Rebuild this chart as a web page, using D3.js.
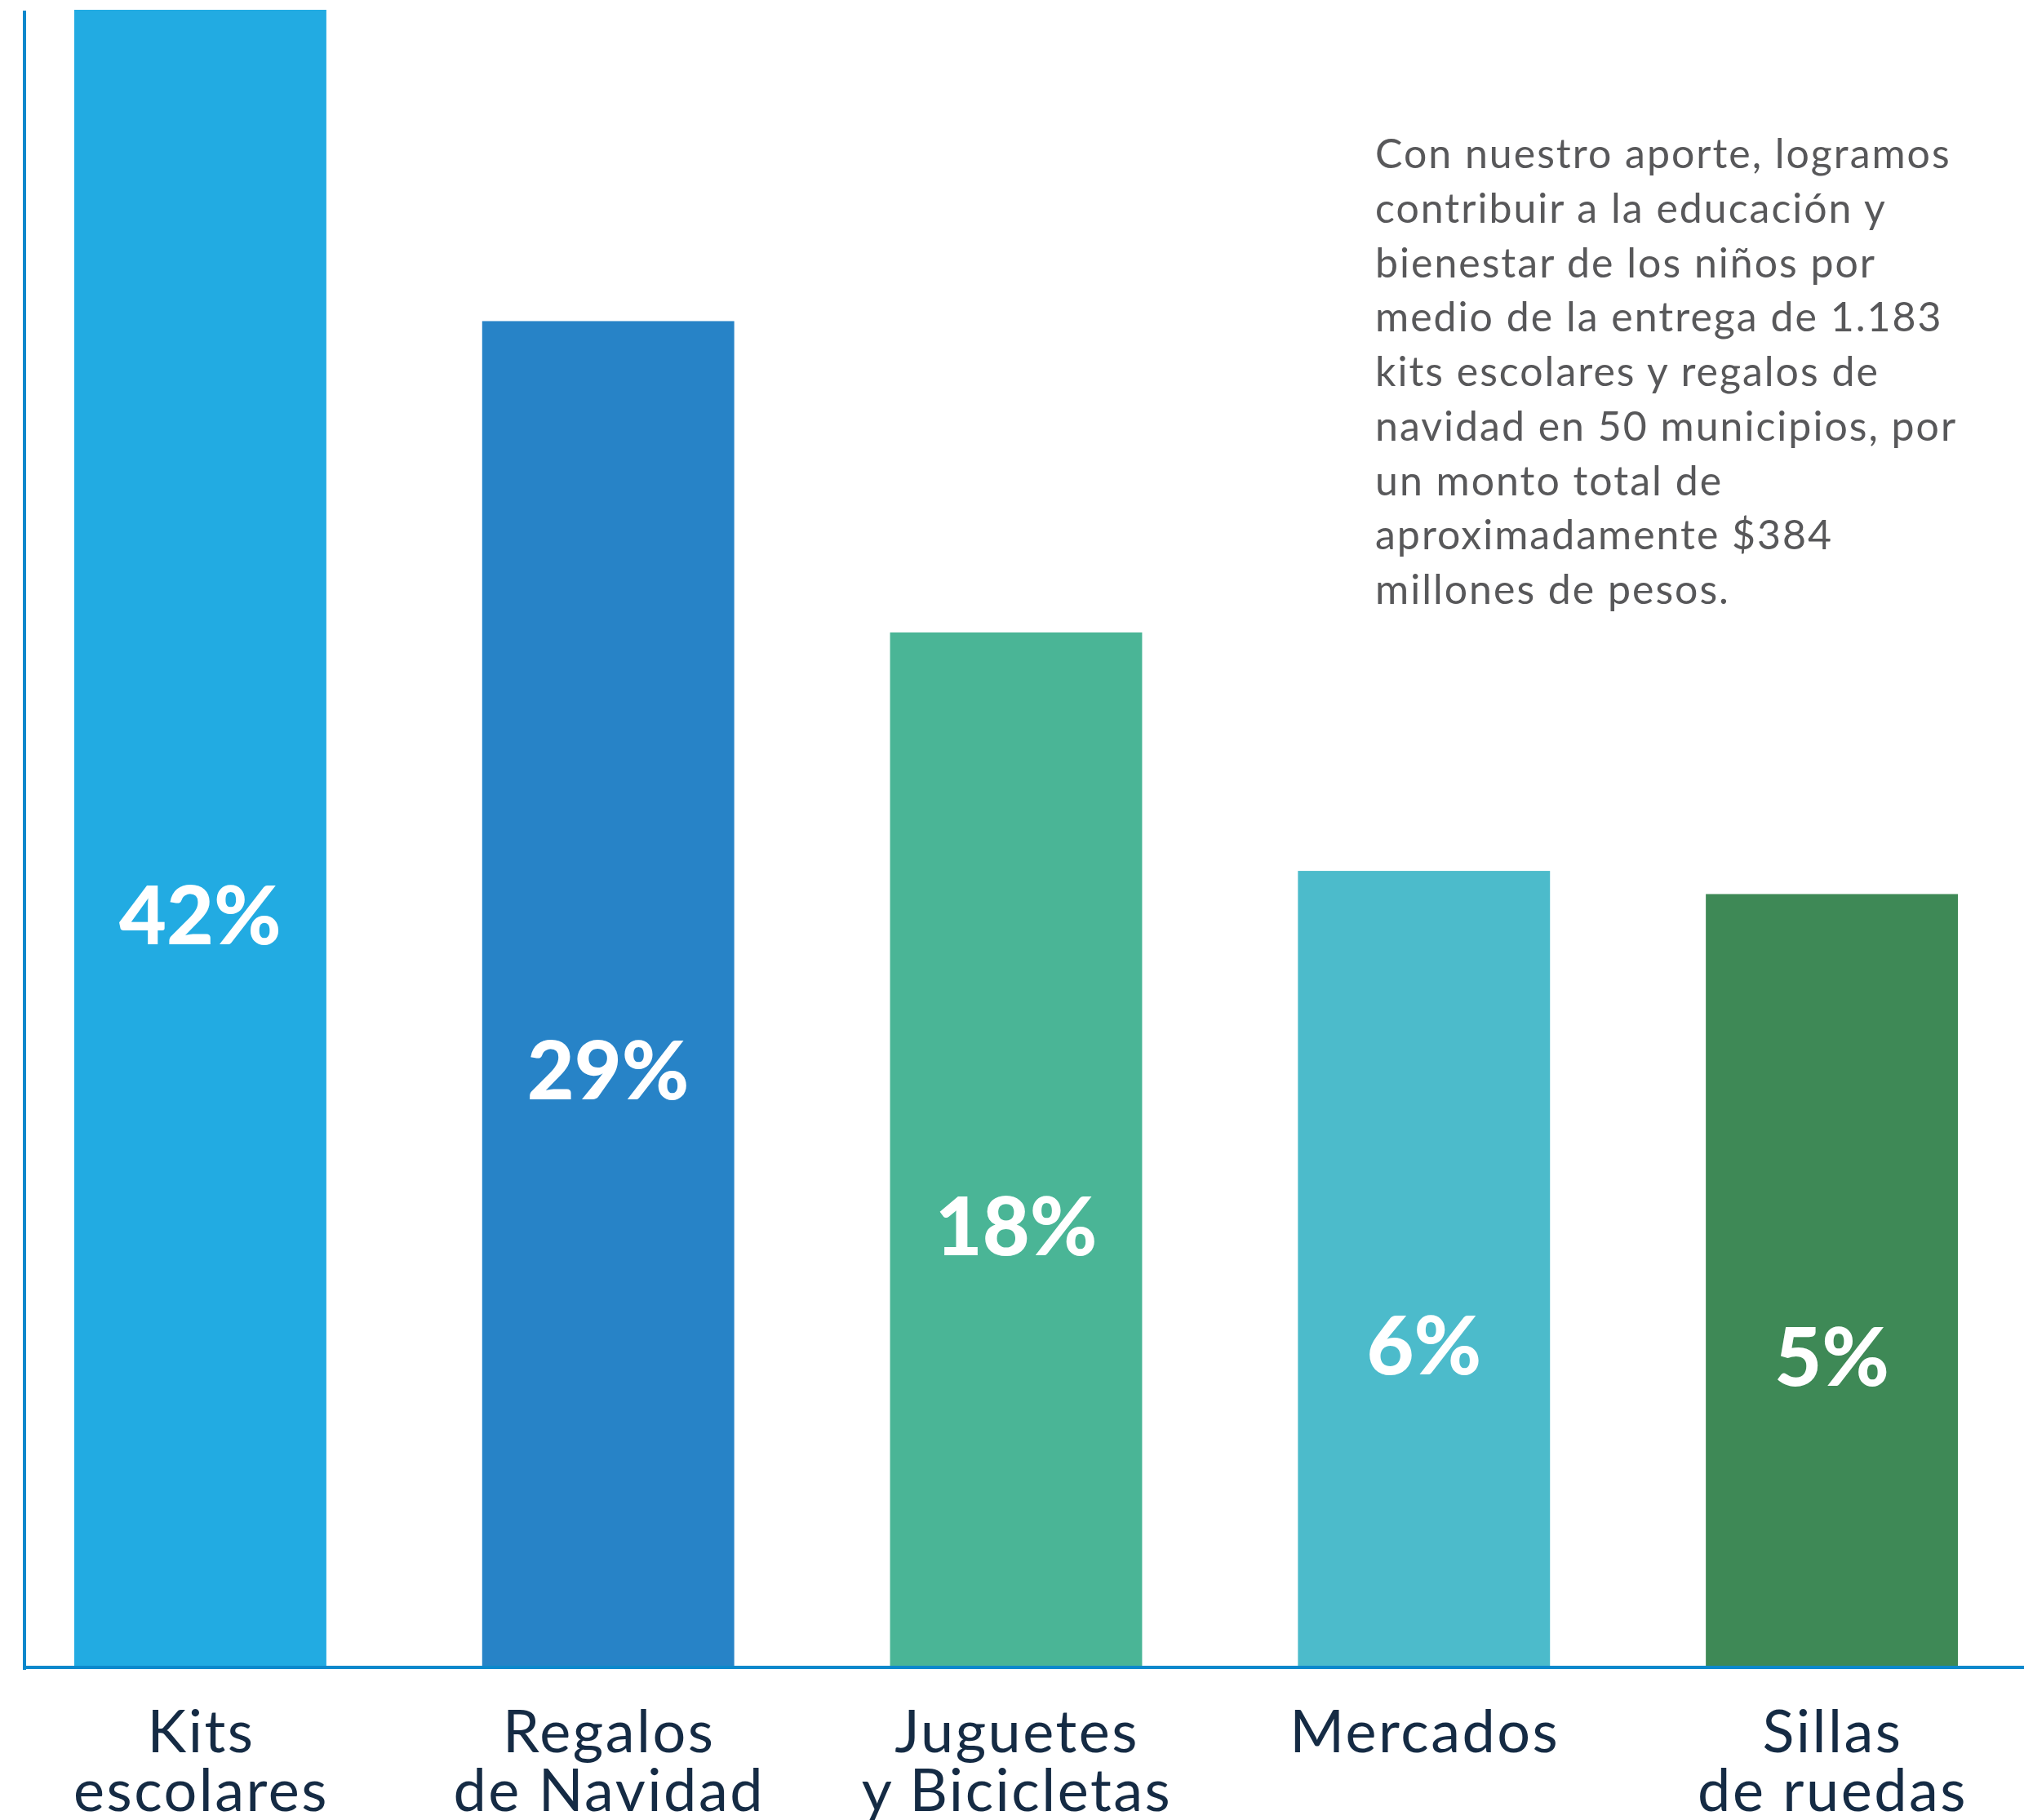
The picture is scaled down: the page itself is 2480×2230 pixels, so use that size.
<!DOCTYPE html>
<html>

<head>
    <meta charset="utf-8">
    <script src="https://d3js.org/d3.v7.min.js"></script>
    <style>
        body { margin: 0; background: #fff; }
        svg text { font-family: Lato, "Open Sans", sans-serif; }
    </style>
</head>

<body>
    <script>
        // categorías (dos líneas por etiqueta)
        var categories = ["Kits escolares", "Regalos de Navidad", "Juguetes y Bicicletas", "Mercados", "Sillas de ruedas"];
        var labelLines = [["Kits", "escolares"], ["Regalos", "de Navidad"], ["Juguetes", "y Bicicletas"], ["Mercados"], ["Sillas", "de ruedas"]];
        // porcentaje mostrado en cada barra
        var percents = [42, 29, 18, 6, 5];
        // altura visual de cada barra (escala 0-100)
        var barHeights = [100, 81.2, 62.4, 48.0, 46.6];
        var colors = ["#22abe2", "#2783c7", "#4ab596", "#4cbbcb", "#3e8956"];

        var noteLines = [
            "Con nuestro aporte, logramos",
            "contribuir a la educación y",
            "bienestar de los niños por",
            "medio de la entrega de 1.183",
            "kits escolares y regalos de",
            "navidad en 50 municipios, por",
            "un monto total de",
            "aproximadamente $384",
            "millones de pesos."
        ];

        var width = 2480, height = 2230;
        var baseY = 2041, topY = 12;

        var svg = d3.select("body").append("svg")
            .attr("width", width)
            .attr("height", height);

        var x = d3.scaleBand()
            .domain(categories)
            .range([91, 2399])
            .paddingInner(0.382)
            .paddingOuter(0);

        var y = d3.scaleLinear()
            .domain([0, 100])
            .range([baseY, topY]);

        // barras
        svg.selectAll(".bar")
            .data(categories)
            .join("rect")
            .attr("class", "bar")
            .attr("x", function (d) { return x(d); })
            .attr("width", x.bandwidth())
            .attr("y", function (d, i) { return y(barHeights[i]); })
            .attr("height", function (d, i) { return baseY - y(barHeights[i]); })
            .style("fill", function (d, i) { return colors[i]; });

        // porcentajes dentro de las barras
        svg.selectAll(".pct")
            .data(categories)
            .join("text")
            .attr("class", "pct")
            .attr("x", function (d) { return x(d) + x.bandwidth() / 2; })
            .attr("y", function (d, i) { return (y(barHeights[i]) + baseY) / 2 + 130; })
            .attr("text-anchor", "middle")
            .style("font-size", "100px")
            .style("font-weight", "900")
            .style("fill", "#fff")
            .text(function (d, i) { return percents[i] + "%"; });

        // ejes
        svg.append("line")
            .attr("x1", 30).attr("x2", 30)
            .attr("y1", 13).attr("y2", 2046)
            .style("stroke", "#0c88cc")
            .style("stroke-width", 4);

        svg.append("line")
            .attr("x1", 28).attr("x2", width)
            .attr("y1", 2043).attr("y2", 2043)
            .style("stroke", "#0c88cc")
            .style("stroke-width", 4);

        // etiquetas de categorías
        var cat = svg.selectAll(".cat")
            .data(categories)
            .join("text")
            .attr("class", "cat")
            .attr("text-anchor", "middle")
            .style("font-size", "72px")
            .style("letter-spacing", "2.5px")
            .style("fill", "#152b44");

        cat.selectAll("tspan")
            .data(function (d, i) {
                return labelLines[i].map(function (t) { return { t: t, cx: x(d) + x.bandwidth() / 2 + 1 }; });
            })
            .join("tspan")
            .attr("x", function (d) { return d.cx; })
            .attr("y", function (d, j) { return 2147 + j * 72; })
            .text(function (d) { return d.t; });

        // texto descriptivo
        svg.append("text")
            .attr("class", "note")
            .style("font-size", "50px")
            .style("letter-spacing", "2px")
            .style("fill", "#58585a")
            .selectAll("tspan")
            .data(noteLines)
            .join("tspan")
            .attr("x", 1685)
            .attr("y", function (d, i) { return 206 + i * 66.75; })
            .text(function (d) { return d; });
    </script>
</body>

</html>
